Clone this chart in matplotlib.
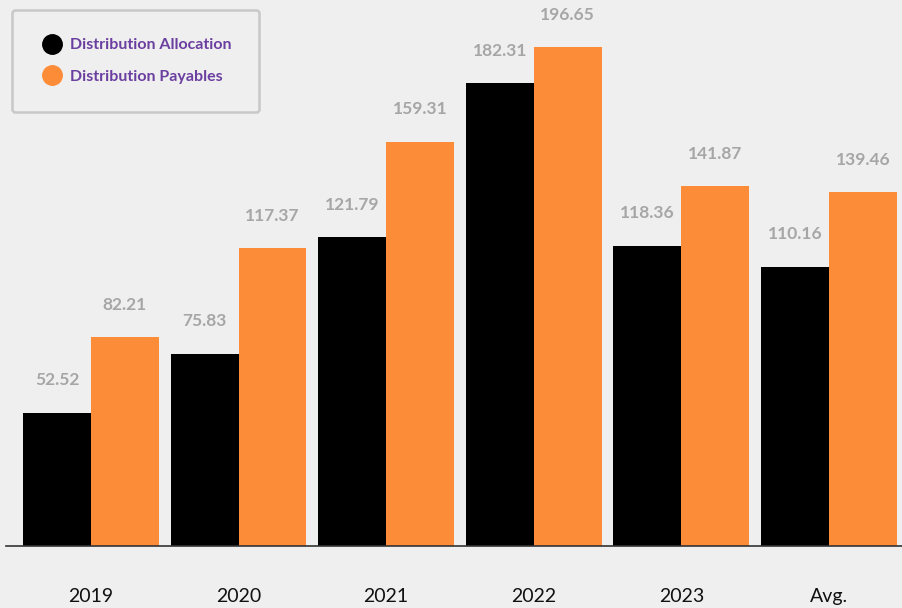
import numpy as np
import matplotlib; matplotlib.use("Agg"); import matplotlib.pyplot as plt
from matplotlib.lines import Line2D

categories = ["2019", "2020", "2021", "2022", "2023", "Avg."]
allocation = [52.52, 75.83, 121.79, 182.31, 118.36, 110.16]
payables = [82.21, 117.37, 159.31, 196.65, 141.87, 139.46]
series_names = ["Distribution Allocation", "Distribution Payables"]

BG = "#efefef"; BLACK = "#000000"; ORANGE = "#fd8c38"; LABEL = "#a6a6a6"; PURPLE = "#6b3fa0"
plt.rcParams["font.family"] = ["Lato", "DejaVu Sans"]

fig = plt.figure(figsize=(9.02, 6.08), dpi=100, facecolor=BG)
ax = fig.add_axes([6/902, 62/608, 896/902, 546/608], facecolor=BG)

x = np.arange(len(categories)); w = 0.46
ax.bar(x - w/2, allocation, w, color=BLACK)
ax.bar(x + w/2, payables, w, color=ORANGE)
for xi, v in zip(x - w/2, allocation):
    ax.text(xi, v + 12.8, f"{v:.2f}", ha="center", va="center", fontsize=12.5, fontweight="bold", color=LABEL)
for xi, v in zip(x + w/2, payables):
    ax.text(xi, v + 12.8, f"{v:.2f}", ha="center", va="center", fontsize=12.5, fontweight="bold", color=LABEL)

ax.set_xlim(-0.576, 5.495); ax.set_ylim(0, 215.2)
ax.set_yticks([]); ax.set_xticks(x); ax.set_xticklabels(categories, fontsize=14, color="#111111")
ax.tick_params(axis="x", length=0, pad=30)
for s in ("top", "right", "left"): ax.spines[s].set_visible(False)
ax.spines["bottom"].set_color("#333333"); ax.spines["bottom"].set_linewidth(1.2)

handles = [Line2D([], [], marker="o", ls="", ms=14, color=c) for c in (BLACK, ORANGE)]
leg = fig.legend(handles, series_names, loc="upper left", bbox_to_anchor=(12/902, 1 - 10/608),
                 frameon=True, fancybox=True, facecolor=BG, edgecolor="#c8c8c8", framealpha=1,
                 prop=dict(size=11.5, weight="bold"), handletextpad=0.35, labelspacing=1.1,
                 borderpad=1.75, handlelength=1.5, borderaxespad=0)
leg.get_frame().set_linewidth(1.8)
for t in leg.get_texts(): t.set_color(PURPLE)

fig.savefig("out.png", dpi=100, facecolor=BG)
